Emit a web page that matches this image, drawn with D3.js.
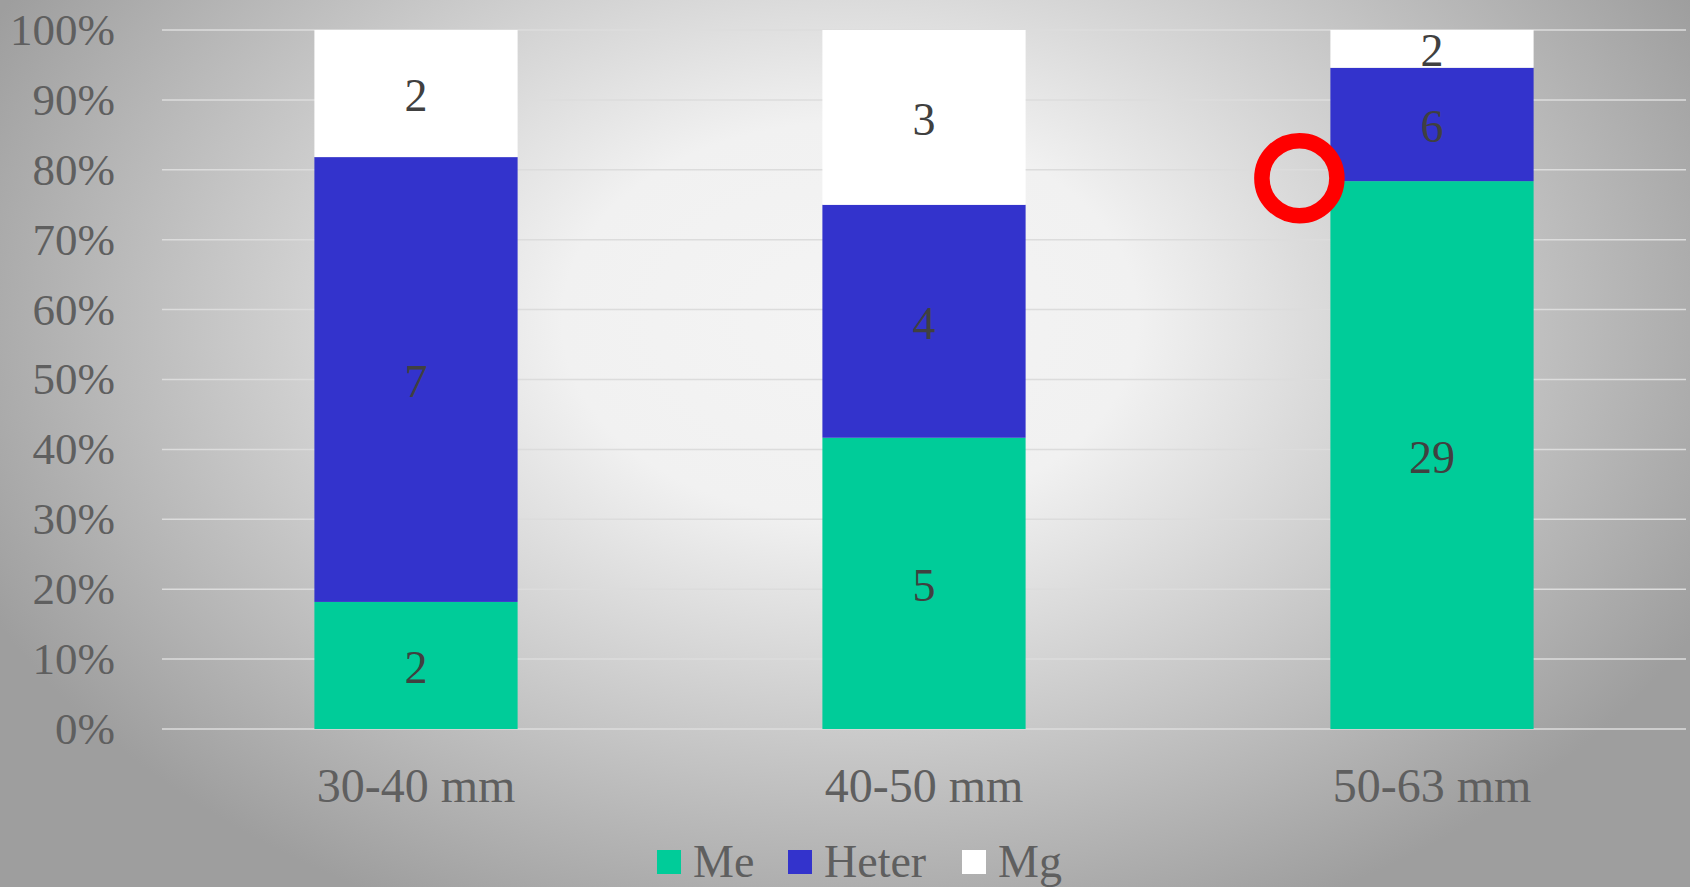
<!DOCTYPE html>
<html>
<head>
<meta charset="utf-8">
<script src="https://cdn.jsdelivr.net/npm/d3@7"></script>
<style>
  body { margin: 0; padding: 0; overflow: hidden; }
  svg { display: block; font-family: "Liberation Serif", "Times New Roman", serif; }
</style>
</head>
<body>
<div id="chart"></div>
<script>
// Chart data
const categories = ["30-40 mm", "40-50 mm", "50-63 mm"];
const seriesNames = ["Me", "Heter", "Mg"];
const meValues = [2, 5, 29];
const heterValues = [7, 4, 6];
const mgValues = [2, 3, 2];
const tickValues = [0, 0.1, 0.2, 0.3, 0.4, 0.5, 0.6, 0.7, 0.8, 0.9, 1];
const colors = ["#00cc99", "#3333cc", "#ffffff"];

(function() {
    const W = 1690, H = 887;
    const margin = { top: 30, right: 4, bottom: 158, left: 162 },
        width = W - margin.left - margin.right,
        height = H - margin.top - margin.bottom;

    const svg = d3.select("#chart")
        .append("svg")
        .attr("width", W)
        .attr("height", H);

    // background: grey radial gradient, wide light centre
    const defs = svg.append("defs");
    const grad = defs.append("radialGradient")
        .attr("id", "bg")
        .attr("gradientUnits", "userSpaceOnUse")
        .attr("cx", 0).attr("cy", 0).attr("r", 1)
        .attr("gradientTransform", "translate(850,320) scale(960,660)");
    grad.append("stop").attr("offset", "0%").attr("stop-color", "#f4f4f4");
    grad.append("stop").attr("offset", "30%").attr("stop-color", "#f1f1f1");
    grad.append("stop").attr("offset", "100%").attr("stop-color", "#9e9e9e");
    svg.append("rect").attr("width", W).attr("height", H).attr("fill", "url(#bg)");

    const g = svg.append("g")
        .attr("transform", `translate(${margin.left},${margin.top})`);

    // build stacked rows as shares of each category total
    const rows = categories.map((c, i) => ({
        cat: c, Me: meValues[i], Heter: heterValues[i], Mg: mgValues[i]
    }));
    const stack = d3.stack().keys(seriesNames).offset(d3.stackOffsetExpand);
    const layers = stack(rows);

    const x = d3.scaleBand().domain(categories).range([0, width]).paddingInner(0.6).paddingOuter(0.3);
    const y = d3.scaleLinear().domain([0, 1]).range([height, 0]);
    const color = d3.scaleOrdinal().domain(seriesNames).range(colors);

    // gridlines
    g.append("g")
        .selectAll("line")
        .data(tickValues)
        .enter()
        .append("line")
        .attr("x1", 0).attr("x2", width)
        .attr("y1", d => y(d)).attr("y2", d => y(d))
        .attr("stroke", "#dcdcdc")
        .attr("stroke-width", 1.5);

    // y axis labels
    const yAxis = g.append("g")
        .call(d3.axisLeft(y).tickValues(tickValues).tickFormat(d3.format(".0%")).tickSize(0).tickPadding(47));
    yAxis.select(".domain").remove();
    yAxis.selectAll("text")
        .attr("font-family", "Liberation Serif, serif")
        .attr("font-size", 45)
        .attr("fill", "#5f5f5f");

    // x axis labels
    const xAxis = g.append("g")
        .attr("transform", `translate(0,${height})`)
        .call(d3.axisBottom(x).tickSize(0).tickPadding(39));
    xAxis.select(".domain").remove();
    xAxis.selectAll("text")
        .attr("font-family", "Liberation Serif, serif")
        .attr("font-size", 48)
        .attr("fill", "#5f5f5f");

    // bars
    const layer = g.append("g")
        .selectAll("g")
        .data(layers)
        .enter()
        .append("g")
        .attr("fill", d => color(d.key));

    layer.selectAll("rect")
        .data(d => d)
        .enter()
        .append("rect")
        .attr("x", d => x(d.data.cat))
        .attr("y", d => y(d[1]))
        .attr("width", x.bandwidth())
        .attr("height", d => y(d[0]) - y(d[1]));

    // value labels
    layers.forEach(L => {
        g.append("g")
            .selectAll("text")
            .data(L)
            .enter()
            .append("text")
            .attr("x", d => x(d.data.cat) + x.bandwidth() / 2)
            .attr("y", d => (y(d[0]) + y(d[1])) / 2)
            .attr("dy", "0.38em")
            .attr("text-anchor", "middle")
            .attr("font-size", 46)
            .attr("fill", "#404040")
            .text(d => d.data[L.key]);
    });

    // red circle annotation near top of Me in last bar
    const last = layers[0][2];
    g.append("circle")
        .attr("cx", x(categories[2]) - 31)
        .attr("cy", y(last[1]) - 3)
        .attr("r", 37.5)
        .attr("fill", "none")
        .attr("stroke", "#ff0000")
        .attr("stroke-width", 15.5);

    // legend
    const legendX = [657, 788, 962];
    const legend = svg.append("g")
        .selectAll("g")
        .data(seriesNames)
        .enter()
        .append("g")
        .attr("transform", (d, i) => `translate(${legendX[i]},850)`);
    legend.append("rect")
        .attr("width", 24).attr("height", 24)
        .attr("fill", d => color(d));
    legend.append("text")
        .attr("x", 36).attr("y", 27)
        .attr("font-size", 46)
        .attr("fill", "#5f5f5f")
        .text(d => d);
})();
</script>
</body>
</html>
